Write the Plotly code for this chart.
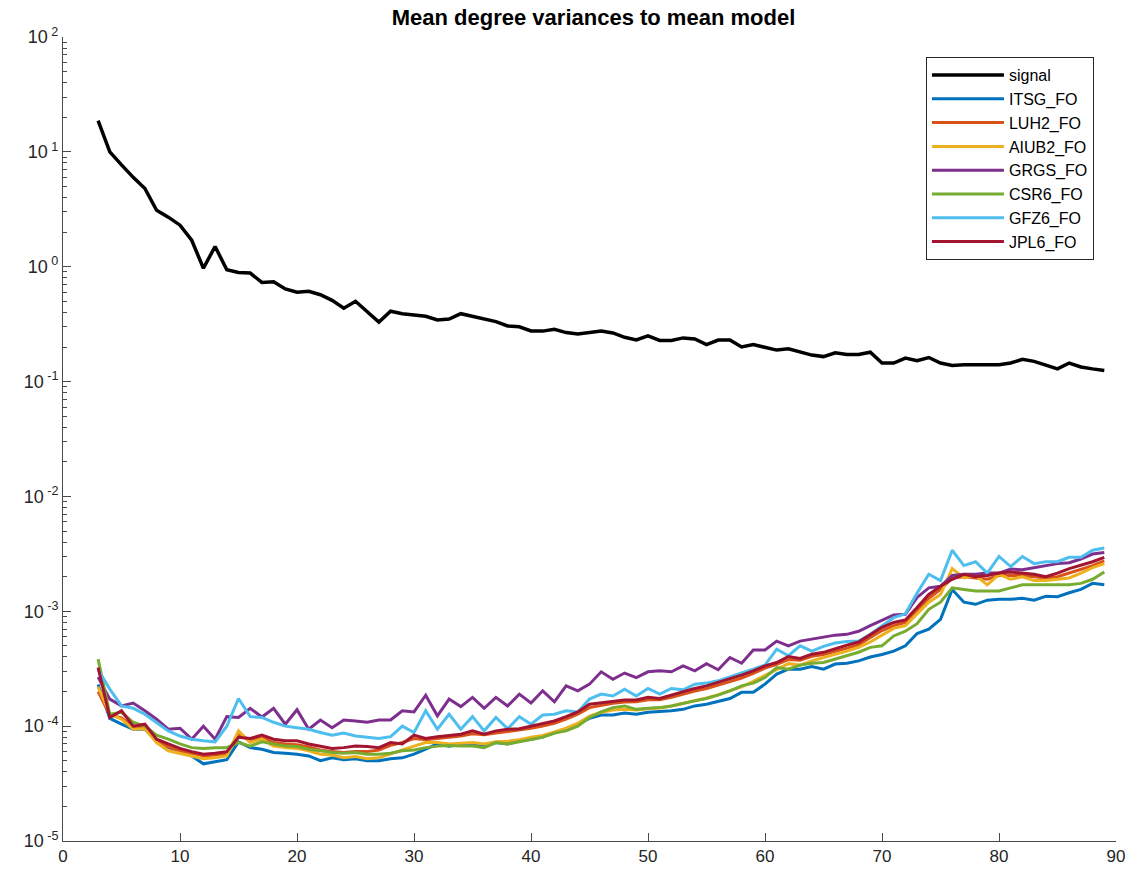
import plotly.graph_objects as go

degrees = list(range(3, 90))

signal = [18.7, 10, 7.7, 6.0, 4.8, 3.1, 2.7, 2.3, 1.7, 0.97,          # 3-12
          1.5, 0.94, 0.89, 0.88, 0.73, 0.74, 0.64, 0.60, 0.61, 0.57,    # 13-22
          0.51, 0.435, 0.50, 0.41, 0.33, 0.41, 0.39, 0.38, 0.37, 0.344, # 23-32
          0.35, 0.39, 0.37, 0.345, 0.333, 0.305, 0.30, 0.276, 0.275, 0.285,  # 33-42
          0.267, 0.26, 0.267, 0.276, 0.265, 0.243, 0.23, 0.25, 0.228, 0.228, # 43-52
          0.24, 0.235, 0.21, 0.23, 0.23, 0.20, 0.21, 0.20, 0.188, 0.193,     # 53-62
          0.182, 0.17, 0.165, 0.178, 0.172, 0.172, 0.18, 0.145, 0.145, 0.16, # 63-72
          0.152, 0.162, 0.145, 0.138, 0.14, 0.139, 0.14, 0.14, 0.145, 0.156, # 73-82
          0.15, 0.139, 0.129, 0.145, 0.134, 0.129, 0.125]                    # 83-89

itsg = [2.3e-4, 1.17e-4, 1.04e-4, 9.4e-5, 9.4e-5, 7.45e-5, 6.5e-5, 6.1e-5, 5.5e-5, 4.7e-5,
        4.9e-5, 5.1e-5, 7.3e-5, 6.5e-5, 6.3e-5, 5.9e-5, 5.8e-5, 5.7e-5, 5.5e-5, 5.0e-5,
        5.3e-5, 5.1e-5, 5.2e-5, 5.0e-5, 5.0e-5, 5.2e-5, 5.3e-5, 5.7e-5, 6.3e-5, 7.0e-5,
        6.7e-5, 7.0e-5, 7.0e-5, 6.7e-5, 7.2e-5, 7.0e-5, 7.45e-5, 7.7e-5, 8.1e-5, 8.7e-5,
        9.4e-5, 1.04e-4, 1.17e-4, 1.25e-4, 1.25e-4, 1.3e-4, 1.27e-4, 1.32e-4, 1.33e-4, 1.36e-4,
        1.4e-4, 1.5e-4, 1.55e-4, 1.63e-4, 1.74e-4, 1.97e-4, 1.97e-4, 2.32e-4, 2.84e-4, 3.13e-4,
        3.13e-4, 3.3e-4, 3.13e-4, 3.47e-4, 3.53e-4, 3.7e-4, 4.0e-4, 4.2e-4, 4.5e-4, 5.0e-4,
        6.4e-4, 7.0e-4, 8.5e-4, 1.55e-3, 1.2e-3, 1.15e-3, 1.25e-3, 1.27e-3, 1.27e-3, 1.3e-3,
        1.25e-3, 1.35e-3, 1.34e-3, 1.45e-3, 1.55e-3, 1.75e-3, 1.7e-3]

luh2 = [2.0e-4, 1.25e-4, 1.18e-4, 9.8e-5, 9.8e-5, 7.5e-5, 6.6e-5, 6.1e-5, 5.8e-5, 5.5e-5,
        5.6e-5, 5.7e-5, 8.5e-5, 7.4e-5, 7.9e-5, 7.2e-5, 7.0e-5, 6.9e-5, 6.6e-5, 6.2e-5,
        6.0e-5, 5.9e-5, 6.0e-5, 6.0e-5, 6.2e-5, 6.8e-5, 7.2e-5, 7.8e-5, 7.6e-5, 7.8e-5,
        8.0e-5, 8.2e-5, 8.6e-5, 8.4e-5, 8.7e-5, 9.0e-5, 9.2e-5, 9.6e-5, 1.0e-4, 1.06e-4,
        1.15e-4, 1.27e-4, 1.45e-4, 1.52e-4, 1.58e-4, 1.62e-4, 1.63e-4, 1.7e-4, 1.7e-4, 1.78e-4,
        1.9e-4, 2.02e-4, 2.12e-4, 2.28e-4, 2.45e-4, 2.62e-4, 2.88e-4, 3.2e-4, 3.45e-4, 3.8e-4,
        3.75e-4, 4.05e-4, 4.2e-4, 4.5e-4, 4.8e-4, 5.1e-4, 5.9e-4, 6.8e-4, 7.5e-4, 8.0e-4,
        1.02e-3, 1.3e-3, 1.55e-3, 1.95e-3, 2.0e-3, 1.95e-3, 1.9e-3, 2.05e-3, 2.05e-3, 2.05e-3,
        2.0e-3, 1.95e-3, 2.0e-3, 2.15e-3, 2.3e-3, 2.5e-3, 2.75e-3]

aiub2 = [2.2e-4, 1.27e-4, 1.15e-4, 9.4e-5, 9.5e-5, 7.2e-5, 6.1e-5, 5.8e-5, 5.5e-5, 5.2e-5,
         5.3e-5, 5.5e-5, 9.1e-5, 7.2e-5, 7.7e-5, 6.7e-5, 6.5e-5, 6.4e-5, 6.1e-5, 5.7e-5,
         5.6e-5, 5.3e-5, 5.45e-5, 5.2e-5, 5.3e-5, 5.7e-5, 6.2e-5, 6.7e-5, 7.2e-5, 7.2e-5,
         7.0e-5, 7.1e-5, 7.2e-5, 7.0e-5, 7.3e-5, 7.4e-5, 7.6e-5, 8.0e-5, 8.3e-5, 8.9e-5,
         9.6e-5, 1.06e-4, 1.22e-4, 1.32e-4, 1.38e-4, 1.4e-4, 1.38e-4, 1.42e-4, 1.44e-4, 1.5e-4,
         1.58e-4, 1.66e-4, 1.76e-4, 1.88e-4, 2.02e-4, 2.2e-4, 2.45e-4, 2.75e-4, 3.1e-4, 3.5e-4,
         3.4e-4, 3.7e-4, 3.95e-4, 4.2e-4, 4.5e-4, 4.85e-4, 5.4e-4, 6.2e-4, 7.1e-4, 7.5e-4,
         9.5e-4, 1.2e-3, 1.4e-3, 2.35e-3, 1.95e-3, 2.05e-3, 1.7e-3, 2.1e-3, 1.9e-3, 2.0e-3,
         1.85e-3, 1.85e-3, 1.9e-3, 1.95e-3, 2.15e-3, 2.4e-3, 2.6e-3]

grgs = [2.67e-4, 1.72e-4, 1.5e-4, 1.59e-4, 1.36e-4, 1.15e-4, 9.4e-5, 9.6e-5, 7.7e-5, 1.0e-4,
        7.7e-5, 1.21e-4, 1.19e-4, 1.43e-4, 1.2e-4, 1.43e-4, 1.04e-4, 1.39e-4, 9.4e-5, 1.13e-4,
        9.7e-5, 1.13e-4, 1.11e-4, 1.08e-4, 1.13e-4, 1.13e-4, 1.36e-4, 1.33e-4, 1.86e-4, 1.23e-4,
        1.72e-4, 1.48e-4, 1.78e-4, 1.43e-4, 1.78e-4, 1.5e-4, 1.9e-4, 1.59e-4, 2.03e-4, 1.63e-4,
        2.24e-4, 2.03e-4, 2.32e-4, 2.97e-4, 2.56e-4, 2.9e-4, 2.65e-4, 2.97e-4, 3.03e-4, 2.97e-4,
        3.35e-4, 3.03e-4, 3.5e-4, 3.1e-4, 3.96e-4, 3.53e-4, 4.6e-4, 4.6e-4, 5.5e-4, 5.0e-4,
        5.5e-4, 5.7e-4, 5.9e-4, 6.2e-4, 6.3e-4, 6.7e-4, 7.5e-4, 8.4e-4, 9.3e-4, 9.4e-4,
        1.32e-3, 1.6e-3, 1.65e-3, 2.05e-3, 2.1e-3, 2.1e-3, 2.15e-3, 2.15e-3, 2.33e-3, 2.3e-3,
        2.4e-3, 2.5e-3, 2.6e-3, 2.65e-3, 2.85e-3, 3.15e-3, 3.25e-3]

csr6 = [3.83e-4, 1.27e-4, 1.32e-4, 1.08e-4, 1.0e-4, 8.35e-5, 7.7e-5, 7.0e-5, 6.5e-5, 6.4e-5,
        6.5e-5, 6.5e-5, 7.2e-5, 6.7e-5, 7.3e-5, 7.0e-5, 6.7e-5, 6.65e-5, 6.3e-5, 6.1e-5,
        5.9e-5, 5.8e-5, 5.9e-5, 5.7e-5, 5.7e-5, 5.8e-5, 6.1e-5, 6.2e-5, 6.5e-5, 6.7e-5,
        6.8e-5, 6.7e-5, 6.7e-5, 6.5e-5, 7.2e-5, 7.0e-5, 7.3e-5, 7.7e-5, 8.0e-5, 8.7e-5,
        9.1e-5, 1.0e-4, 1.19e-4, 1.33e-4, 1.45e-4, 1.5e-4, 1.4e-4, 1.43e-4, 1.45e-4, 1.5e-4,
        1.59e-4, 1.66e-4, 1.74e-4, 1.86e-4, 2.03e-4, 2.24e-4, 2.37e-4, 2.65e-4, 3.24e-4, 3.13e-4,
        3.4e-4, 3.53e-4, 3.58e-4, 3.83e-4, 4.1e-4, 4.4e-4, 4.85e-4, 5.0e-4, 6.1e-4, 6.7e-4,
        7.8e-4, 1.04e-3, 1.2e-3, 1.6e-3, 1.55e-3, 1.5e-3, 1.5e-3, 1.5e-3, 1.6e-3, 1.7e-3,
        1.7e-3, 1.7e-3, 1.7e-3, 1.7e-3, 1.75e-3, 1.9e-3, 2.2e-3]

gfz6 = [3.1e-4, 2.1e-4, 1.5e-4, 1.43e-4, 1.27e-4, 1.08e-4, 9.1e-5, 8.2e-5, 7.7e-5, 7.45e-5,
        7.3e-5, 1.0e-4, 1.74e-4, 1.21e-4, 1.19e-4, 1.08e-4, 1.0e-4, 9.7e-5, 9.4e-5, 8.8e-5,
        8.35e-5, 8.7e-5, 8.2e-5, 8.0e-5, 7.8e-5, 8.1e-5, 1.0e-4, 8.8e-5, 1.36e-4, 9.4e-5,
        1.27e-4, 9.4e-5, 1.21e-4, 9.1e-5, 1.19e-4, 9.5e-5, 1.21e-4, 1.04e-4, 1.25e-4, 1.27e-4,
        1.36e-4, 1.33e-4, 1.72e-4, 1.9e-4, 1.83e-4, 2.1e-4, 1.83e-4, 2.13e-4, 1.9e-4, 2.13e-4,
        2.07e-4, 2.32e-4, 2.37e-4, 2.48e-4, 2.7e-4, 2.9e-4, 3.13e-4, 3.4e-4, 4.68e-4, 4.1e-4,
        5.0e-4, 4.5e-4, 4.95e-4, 5.3e-4, 5.45e-4, 5.5e-4, 6.3e-4, 7.5e-4, 8.8e-4, 9.5e-4,
        1.44e-3, 2.1e-3, 1.85e-3, 3.4e-3, 2.5e-3, 2.7e-3, 2.15e-3, 3.0e-3, 2.45e-3, 3.0e-3,
        2.6e-3, 2.7e-3, 2.7e-3, 2.95e-3, 2.95e-3, 3.4e-3, 3.55e-3]

jpl6 = [3.24e-4, 1.19e-4, 1.36e-4, 1.0e-4, 1.04e-4, 7.7e-5, 7.0e-5, 6.4e-5, 6.0e-5, 5.7e-5,
        5.8e-5, 6.0e-5, 8.0e-5, 7.8e-5, 8.35e-5, 7.7e-5, 7.45e-5, 7.45e-5, 7.0e-5, 6.7e-5,
        6.4e-5, 6.5e-5, 6.7e-5, 6.65e-5, 6.5e-5, 7.2e-5, 7.0e-5, 8.35e-5, 7.8e-5, 8.1e-5,
        8.35e-5, 8.5e-5, 9.1e-5, 8.5e-5, 9.1e-5, 9.4e-5, 9.5e-5, 1.0e-4, 1.04e-4, 1.11e-4,
        1.21e-4, 1.33e-4, 1.55e-4, 1.59e-4, 1.63e-4, 1.69e-4, 1.69e-4, 1.78e-4, 1.74e-4, 1.86e-4,
        1.99e-4, 2.13e-4, 2.24e-4, 2.4e-4, 2.56e-4, 2.78e-4, 3.03e-4, 3.35e-4, 3.58e-4, 4.04e-4,
        3.88e-4, 4.23e-4, 4.39e-4, 4.74e-4, 5.07e-4, 5.4e-4, 6.3e-4, 7.25e-4, 8.0e-4, 8.4e-4,
        1.08e-3, 1.4e-3, 1.65e-3, 1.9e-3, 2.1e-3, 2.0e-3, 2.05e-3, 2.15e-3, 2.2e-3, 2.15e-3,
        2.1e-3, 2.0e-3, 2.15e-3, 2.35e-3, 2.5e-3, 2.7e-3, 2.95e-3]

series = [
    ("signal", signal, "#000000", 3.5),
    ("ITSG_FO", itsg, "#0072BD", 3),
    ("LUH2_FO", luh2, "#D95319", 3),
    ("AIUB2_FO", aiub2, "#EDB120", 3),
    ("GRGS_FO", grgs, "#7E2F8E", 3),
    ("CSR6_FO", csr6, "#77AC30", 3),
    ("GFZ6_FO", gfz6, "#4DBEEE", 3),
    ("JPL6_FO", jpl6, "#A2142F", 3),
]

x_ticks = list(range(0, 91, 10))
y_exponents = [-5, -4, -3, -2, -1, 0, 1, 2]
y_decades = [10.0 ** e for e in y_exponents]
y_ticktext = ["10<sup> %d</sup>" % e for e in y_exponents]
y_minor = [k * d for d in y_decades[:-1] for k in range(2, 10)]

fig = go.Figure()
for name, vals, color, w in series:
    fig.add_trace(go.Scatter(x=degrees, y=vals, mode="lines", name=name,
                             line=dict(color=color, width=w)))

axis_col = "#4a4a4a"
font_family = "Liberation Sans, Arial, sans-serif"

fig.update_layout(
    width=1137, height=880,
    margin=dict(l=63, r=13, t=37, b=39),
    paper_bgcolor="white", plot_bgcolor="white",
    font=dict(family=font_family, size=16, color="#262626"),
    title=dict(text="<b>Mean degree variances to mean model</b>",
               x=(63 + 1124) / 2 / 1137, xanchor="center",
               y=1 - 17 / 880, yanchor="middle", yref="container",
               font=dict(size=22, color="#000000")),
    showlegend=True,
    legend=dict(x=0.8195, y=0.975, xanchor="left", yanchor="top",
                bgcolor="white", bordercolor="#262626", borderwidth=1,
                font=dict(size=16, color="#000000"),
                itemwidth=72, tracegroupgap=0),
)

fig.update_xaxes(range=[0, 90], tickmode="array", tickvals=x_ticks,
                 ticks="inside", ticklen=8, tickcolor=axis_col, tickwidth=1,
                 showline=True, linecolor=axis_col, linewidth=1, mirror=False,
                 showgrid=False, zeroline=False,
                 tickfont=dict(size=17, color="#262626"))

fig.update_yaxes(type="log", range=[-5, 2], tickmode="array", tickvals=y_decades,
                 ticktext=y_ticktext,
                 ticks="inside", ticklen=8, tickcolor=axis_col, tickwidth=1,
                 minor=dict(tickmode="array", tickvals=y_minor, ticks="inside",
                            ticklen=4, tickcolor=axis_col, showgrid=False),
                 showline=True, linecolor=axis_col, linewidth=1, mirror=False,
                 showgrid=False, zeroline=False,
                 tickfont=dict(size=18, color="#262626"))

fig.write_html("out.html")
